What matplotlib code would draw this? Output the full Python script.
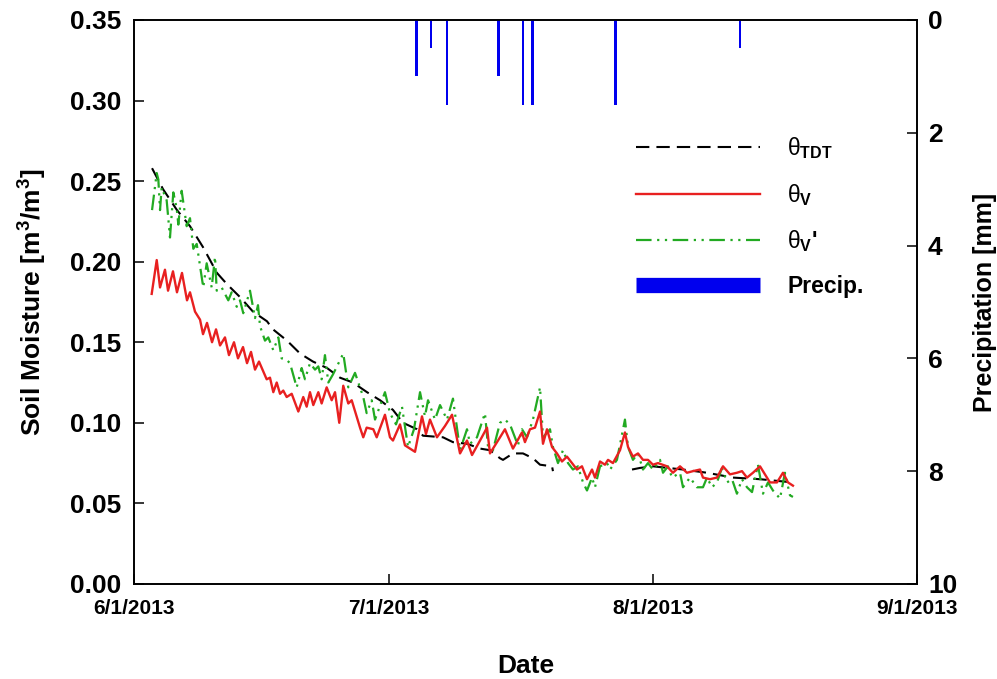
import numpy as np
import pandas as pd
import matplotlib
matplotlib.use("Agg")
import matplotlib.pyplot as plt
from matplotlib.lines import Line2D

plt.rcParams['font.family'] = ['Liberation Sans', 'DejaVu Sans']
plt.rcParams['mathtext.fontset'] = 'custom'
plt.rcParams['mathtext.rm'] = 'Liberation Sans'
plt.rcParams['mathtext.bf'] = 'Liberation Sans:bold'
plt.rcParams['mathtext.it'] = 'Liberation Sans:italic'

START = pd.Timestamp('2013-06-01')

# ---------------- data (days after 6/1/2013) ----------------
red_days = [2.08, 2.67, 3.06, 3.64, 4.00, 4.58, 5.05, 5.64, 6.23, 6.58, 7.17,
            7.76, 8.11, 8.58, 9.17, 9.64, 10.11, 10.69, 11.16, 11.75, 12.22, 12.81, 13.28, 13.75, 14.22, 14.69,
            15.59, 15.98, 16.37, 16.77, 17.16, 17.54, 17.94, 18.53, 19.31, 19.89, 20.29, 20.68, 21.07, 21.66,
            22.05, 22.64, 23.23, 23.62, 24.12, 24.59, 25.18, 25.58, 26.56, 26.94, 27.34, 28.12, 28.52, 29.49, 30.08,
            30.43, 31.26, 31.84, 33.02, 33.84, 34.31, 34.78, 35.60, 36.54, 37.37, 38.31, 39.13, 39.72, 40.66,
            41.48, 41.83, 43.01, 43.59, 44.53, 45.59,
            45.94, 46.53, 47.12, 47.71, 48.06, 48.53, 49.12, 49.70, 50.29, 50.88, 51.47, 52.05, 52.64, 53.23,
            53.82, 54.17, 54.76, 55.34, 55.70, 56.28, 57.11, 57.69, 58.05, 58.63, 59.22, 59.81, 60.40, 60.98, 61.57,
            62.63, 63.33, 64.16, 64.98, 65.68, 66.51, 66.86, 67.68, 68.50, 69.21, 70.03, 70.85, 71.44, 72.03,
            72.73, 73.56, 74.14, 74.73, 75.55, 76.26, 76.85, 77.43]
theta_v = [0.180, 0.201, 0.184, 0.195, 0.182, 0.194, 0.181, 0.193, 0.176, 0.181, 0.169,
           0.164, 0.155, 0.162, 0.150, 0.158, 0.148, 0.153, 0.142, 0.150, 0.140, 0.147, 0.137, 0.144, 0.133, 0.138,
           0.127, 0.128, 0.119, 0.125, 0.118, 0.120, 0.116, 0.118, 0.107, 0.116, 0.110, 0.119, 0.111, 0.119,
           0.112, 0.122, 0.114, 0.119, 0.100, 0.123, 0.112, 0.114, 0.097, 0.091, 0.097, 0.096, 0.091, 0.105, 0.091,
           0.089, 0.099, 0.086, 0.082, 0.104, 0.093, 0.102, 0.091, 0.098, 0.105, 0.081, 0.089, 0.080, 0.089,
           0.097, 0.081, 0.091, 0.096, 0.084, 0.094,
           0.088, 0.096, 0.097, 0.107, 0.087, 0.096, 0.085, 0.081, 0.076, 0.079, 0.075, 0.071, 0.073, 0.065,
           0.071, 0.066, 0.076, 0.074, 0.077, 0.075, 0.083, 0.094, 0.085, 0.079, 0.081, 0.077, 0.077, 0.074, 0.075,
           0.073, 0.069, 0.073, 0.069, 0.070, 0.071, 0.066, 0.065, 0.066, 0.073, 0.068, 0.069, 0.070, 0.066,
           0.069, 0.073, 0.068, 0.063, 0.063, 0.069, 0.063, 0.061]

green_days = [2.12, 2.67, 2.86, 3.06, 3.25, 3.84, 4.23, 4.62, 5.02, 5.21, 5.60, 6.19, 6.58, 6.97, 7.37,
              8.14, 8.54, 9.13, 9.52, 9.72, 10.30, 11.08, 11.48, 12.07, 12.46, 12.84, 13.63, 14.22, 14.57,
              14.81, 15.39, 15.78, 16.37, 16.96, 17.35, 17.94, 18.33, 19.12, 19.70, 20.09, 20.68, 21.27, 21.66,
              22.05, 22.44, 22.83, 23.38, 24.59, 25.18, 25.97, 26.94, 27.34, 27.93, 28.32, 29.49, 30.08,
              30.79, 31.49, 32.20, 32.90, 33.61, 34.19, 34.55, 35.37, 35.96, 36.78, 37.48, 38.31, 39.13, 39.48,
              40.30, 41.24, 41.60, 42.18, 43.01, 43.59, 44.18, 45.12, 45.59, 46.18, 46.88, 47.71, 48.06, 48.88,
              49.23, 49.82, 50.41, 51.00, 51.58, 52.17, 52.76, 53.23, 53.82, 54.17, 54.76, 55.58, 55.93, 56.75,
              57.69, 58.05, 58.63, 59.22, 59.81, 60.40, 60.98, 61.57, 61.81, 62.16, 62.75, 63.22, 64.16, 64.51,
              65.33, 66.15, 66.86, 67.33, 67.92, 68.50, 69.09, 69.68, 70.27, 70.85, 71.44, 72.03, 72.62, 73.32,
              73.91, 74.50, 75.08, 75.91, 76.49, 77.08, 77.43]
theta_v_prime = [0.232, 0.255, 0.251, 0.232, 0.246, 0.238, 0.215, 0.243, 0.233, 0.223, 0.244, 0.222, 0.227, 0.208, 0.211,
                 0.184, 0.199, 0.184, 0.203, 0.182, 0.184, 0.176, 0.181, 0.172, 0.176, 0.168, 0.182, 0.165, 0.173,
                 0.160, 0.151, 0.153, 0.145, 0.153, 0.140, 0.139, 0.137, 0.122, 0.134, 0.127, 0.137, 0.133, 0.135,
                 0.127, 0.142, 0.125, 0.130, 0.143, 0.122, 0.131, 0.116, 0.106, 0.114, 0.102, 0.119, 0.106,
                 0.099, 0.110, 0.085, 0.096, 0.119, 0.104, 0.114, 0.102, 0.111, 0.102, 0.115, 0.083, 0.096, 0.087,
                 0.091, 0.106, 0.085, 0.083, 0.100, 0.102, 0.099, 0.086, 0.096, 0.091, 0.102, 0.122, 0.091, 0.096,
                 0.085, 0.075, 0.083, 0.075, 0.071, 0.073, 0.063, 0.058, 0.066, 0.060, 0.073, 0.075, 0.071, 0.077,
                 0.102, 0.085, 0.077, 0.081, 0.071, 0.075, 0.071, 0.075, 0.077, 0.069, 0.073, 0.066, 0.069, 0.060,
                 0.066, 0.060, 0.060, 0.066, 0.060, 0.063, 0.072, 0.063, 0.065, 0.056, 0.065, 0.060, 0.057, 0.074,
                 0.056, 0.063, 0.058, 0.053, 0.069, 0.055, 0.054]

tdt_days = [2.12, 3.41, 5.05, 6.58, 8.11, 9.75, 10.93, 12.46, 13.98, 15.63, 16.33, 17.98, 19.51, 21.03,
            22.68, 24.21, 25.73, 27.38, 28.91, 30.43, 31.61, 33.25, 33.96, 36.31, 37.48, 39.13, 40.66, 41.83,
            43.01, 43.36, 44.53, 45.71, 46.88, 47.71, 49.12, 49.23, 50.0, 58.52, 59.46, 60.98, 64.51, 67.33,
            70.38, 73.56, 77.43]
theta_tdt = [0.258, 0.245, 0.232, 0.222, 0.209, 0.193, 0.186, 0.178, 0.169, 0.163, 0.158, 0.151, 0.143, 0.138,
             0.134, 0.128, 0.125, 0.119, 0.114, 0.108, 0.100, 0.096, 0.092, 0.091, 0.088, 0.087, 0.084, 0.083,
             0.078, 0.077, 0.081, 0.081, 0.078, 0.074, 0.073, 0.070, np.nan, 0.071, 0.072, 0.073, 0.071, 0.069,
             0.066, 0.065, 0.063]

precip_days = [33.2, 34.9, 36.8, 42.8, 45.7, 46.8, 56.6, 71.2]
precip_mm = [1.0, 0.5, 1.5, 1.0, 1.5, 1.5, 1.5, 0.5]

x_tick_dates = ['2013-06-01', '2013-07-01', '2013-08-01', '2013-09-01']
x_tick_labels = ['6/1/2013', '7/1/2013', '8/1/2013', '9/1/2013']
y_ticks = [0.00, 0.05, 0.10, 0.15, 0.20, 0.25, 0.30, 0.35]
y2_ticks = [0, 2, 4, 6, 8, 10]


def to_dates(days):
    return START + pd.to_timedelta(np.asarray(days, dtype=float), unit='D')


fig = plt.figure(figsize=(9.97, 6.79), dpi=100)
ax = fig.add_axes([0.1344, 0.140, 0.7853, 0.8306])

ax.plot(to_dates(tdt_days), theta_tdt, color='black', lw=1.5, ls=(0, (6.4, 3.4)), zorder=2)
ax.plot(to_dates(red_days), theta_v, color='#e82020', lw=1.7, zorder=4)
ax.plot(to_dates(green_days), theta_v_prime, color='#22aa22', lw=1.6,
        ls=(0, (7, 2.5, 1, 2.5, 1, 2.5)), zorder=3)

ax.set_ylim(0, 0.35)
ax.set_xlim(pd.Timestamp('2013-06-01'), pd.Timestamp('2013-09-01'))
ax.set_yticks(y_ticks)
ax.set_yticklabels([f'{v:.2f}' for v in y_ticks])
ax.set_xticks(pd.to_datetime(x_tick_dates))
ax.set_xticklabels(x_tick_labels)

ax2 = ax.twinx()
ax2.bar(to_dates(precip_days), precip_mm, width=0.3, color='#0000ee', zorder=1)
ax2.set_ylim(10, 0)
ax2.set_yticks(y2_ticks)

for a in (ax, ax2):
    for s in a.spines.values():
        s.set_linewidth(1.2)
        s.set_color('black')

ax.tick_params(axis='both', direction='in', length=7, width=1.1)
ax.tick_params(axis='y', pad=9, labelsize=19)
ax.tick_params(axis='x', pad=11, labelsize=15)
ax2.tick_params(axis='y', direction='in', length=7, width=1.1, labelsize=19, pad=8)
for lab in ax.get_yticklabels() + ax2.get_yticklabels() + ax.get_xticklabels():
    lab.set_fontweight('bold')

ax.set_xlabel('Date', fontsize=19, fontweight='bold', labelpad=26)
ax.set_ylabel(r'Soil Moisture [m$^\mathbf{3}$/m$^\mathbf{3}$]', fontsize=19, fontweight='bold', labelpad=15)
ax2.set_ylabel('Precipitation [mm]', fontsize=18, fontweight='bold', labelpad=11)

handles = [
    Line2D([], [], color='black', lw=1.5, ls=(0, (6.4, 3.4))),
    Line2D([], [], color='#e82020', lw=1.7),
    Line2D([], [], color='#22aa22', lw=1.6, ls=(0, (7, 2.5, 1, 2.5, 1, 2.5))),
    Line2D([], [], color='#0000ee', lw=11, solid_capstyle='butt'),
]
labels = [r'$\mathrm{\theta}_{\mathbf{TDT}}$', r'$\mathrm{\theta}_{\mathbf{V}}$',
          r"$\mathrm{\theta}_{\mathbf{V}}$'", 'Precip.']
leg = ax.legend(handles, labels, loc='upper left', bbox_to_anchor=(0.615, 0.832), frameon=False,
                fontsize=16.5, handlelength=5.4, handletextpad=1.2, labelspacing=0.9)
for t in leg.get_texts():
    t.set_fontweight('bold')

fig.savefig('out.png', dpi=100)
